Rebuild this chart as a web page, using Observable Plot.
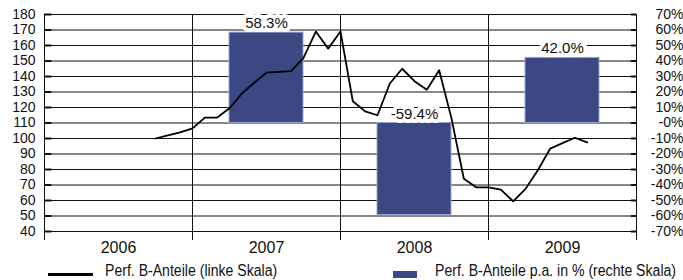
<!DOCTYPE html>
<html><head><meta charset="utf-8">
<script src="https://cdn.jsdelivr.net/npm/d3@7"></script>
<script src="https://cdn.jsdelivr.net/npm/@observablehq/plot@0.6"></script>
<style>
body{margin:0;background:#fff;}
#wrap{position:relative;width:683px;height:280px;overflow:hidden;font-family:"Liberation Sans",Arial,sans-serif;}
#chart svg{display:block;}
#legend{position:absolute;left:0;top:258px;width:683px;height:22px;}
.lg{position:absolute;}
.lt{position:absolute;top:5px;font-size:16px;line-height:16px;white-space:nowrap;transform:scaleX(0.88);transform-origin:left center;color:#111;}
</style></head><body>
<div id="wrap"><div id="chart"></div><div id="legend"></div></div>
<script>
// Monthly performance of B shares (left scale)
const months = ["2006-10","2006-11","2006-12","2007-01","2007-02","2007-03","2007-04","2007-05","2007-06","2007-07","2007-08","2007-09","2007-10","2007-11","2007-12","2008-01","2008-02","2008-03","2008-04","2008-05","2008-06","2008-07","2008-08","2008-09","2008-10","2008-11","2008-12","2009-01","2009-02","2009-03","2009-04","2009-05","2009-06","2009-07","2009-08","2009-09"];
const perfValues = [100,102,104,106.5,113.5,113.5,119.5,129,136,142.5,143,143.5,152,169,158,169,124,117.5,115,135.5,145,137,131.5,144,113,74,68.5,68.5,67,59.5,67.5,79.5,93.5,97,100.5,97.5];
// Annual performance in % (right scale)
const barYears = [2007, 2008, 2009];
const barPct = [58.3, -59.4, 42.0];
const barLabels = ["58.3%", "-59.4%", "42.0%"];
const yearLabels = [2006, 2007, 2008, 2009];
const leftTicks = d3.range(40, 181, 10);
const legendLabels = ["Perf. B-Anteile (linke Skala)", "Perf. B-Anteile p.a. in % (rechte Skala)"];
const zeroLeft = 110; // 0 % on the right scale sits at 110 on the left scale

const lineData = months.map((m, i) => {
  const [y, mo] = m.split("-").map(Number);
  return {x: y + (mo - 1) / 12, v: perfValues[i]};
});
const bars = barYears.map((y, i) => ({year: y, pct: barPct[i], label: barLabels[i]}));
const pctFmt = d => { const p = Math.round(d - zeroLeft); return p > 0 ? p + "%" : "-" + Math.abs(p) + "%"; };

const blue = "#3b4883";
const chart = Plot.plot({
  width: 683, height: 258,
  marginLeft: 44, marginRight: 47, marginTop: 14, marginBottom: 27,
  style: {fontFamily: "'Liberation Sans', Arial, sans-serif", background: "white", color: "#111"},
  x: {domain: [2006, 2010], axis: null},
  y: {domain: [40, 180], axis: null},
  marks: [
    Plot.ruleY(leftTicks, {x1: 2006, x2: 2010, stroke: "#111", strokeWidth: 1}),
    Plot.ruleY(leftTicks, {x1: 2006, x2: 2006.05, stroke: "#111", strokeWidth: 2}),
    Plot.ruleY(leftTicks, {x1: 2009.965, x2: 2010, stroke: "#111", strokeWidth: 2}),
    Plot.ruleX([2006, 2007, 2008, 2009, 2010], {y1: 40, y2: 180, stroke: "#111", strokeWidth: 1}),
    Plot.axisX({ticks: [2006, 2007, 2008, 2009, 2010], tickSize: 9, tickFormat: () => "", label: null, stroke: "#111"}),
    Plot.rect(bars, {x1: d => d.year + 0.25, x2: d => d.year + 0.75, y1: zeroLeft, y2: d => zeroLeft + d.pct, fill: blue, stroke: "#9ba3cd", strokeWidth: 1}),
    Plot.line(lineData, {x: "x", y: "v", stroke: "black", strokeWidth: 1.8}),
    Plot.text(bars, {x: d => d.year + 0.5, y: d => zeroLeft + Math.max(0, d.pct), text: "label", lineAnchor: "bottom", dy: -4.5, fontSize: 15, fill: "#111", stroke: "white", strokeWidth: 8, paintOrder: "stroke"}),
    Plot.text(leftTicks, {y: d => d, text: d => String(d), frameAnchor: "left", textAnchor: "end", dx: -9, fontSize: 14, fill: "#111", lineAnchor: "middle"}),
    Plot.text(leftTicks, {y: d => d, text: pctFmt, frameAnchor: "right", textAnchor: "end", dx: 47, fontSize: 14, fill: "#111", lineAnchor: "middle"}),
    Plot.text(yearLabels, {x: d => d + 0.5, text: d => String(d), frameAnchor: "bottom", lineAnchor: "middle", dy: 16, fontSize: 16, fill: "#111"})
  ]
});
document.getElementById("chart").appendChild(chart);

const lg = document.getElementById("legend");
lg.innerHTML = `
<div class="lg" style="left:48px;top:15px;width:45px;height:3px;background:#000"></div>
<div class="lt" style="left:105px">${legendLabels[0]}</div>
<div class="lg" style="left:393px;top:13px;width:24px;height:7px;background:${blue}"></div>
<div class="lt" style="left:435px">${legendLabels[1]}</div>`;
</script>
</body></html>
